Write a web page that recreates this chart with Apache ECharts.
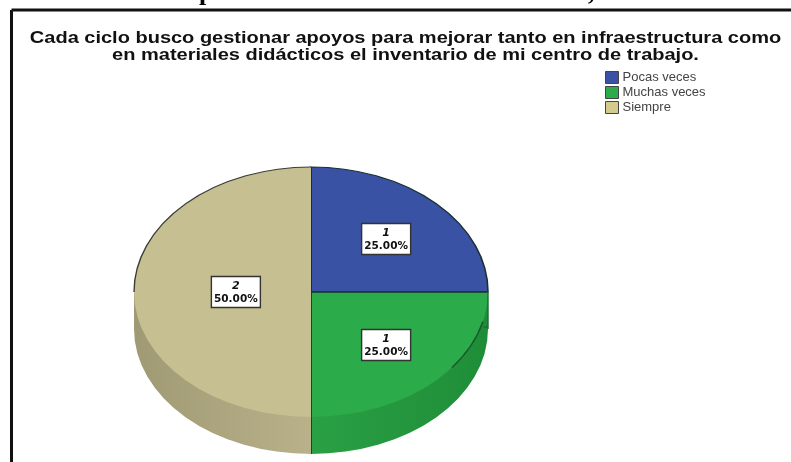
<!DOCTYPE html>
<html><head><meta charset="utf-8">
<style>html,body{margin:0;padding:0;background:#fff}#c{width:791px;height:462px}</style>
<script src="https://cdn.jsdelivr.net/npm/echarts@6/dist/echarts.min.js"></script>
</head><body><div id="c"></div>
<script>
const titleLines = ['Cada ciclo busco gestionar apoyos para mejorar tanto en infraestructura como','en materiales didácticos el inventario de mi centro de trabajo.'];
const categories = ['Pocas veces','Muchas veces','Siempre'];
const counts = [1,1,2];
const percents = ['25.00%','25.00%','50.00%'];
const colors = ['#3a52a3','#2bab49','#c6bf91'];
const legendColors = ['#3a52a3','#2bab49','#d3cb8c'];
const sideColors = [['#2b3f80','#2b3f80'],['#2aa044','#1f8d38'],['#a09a74','#b8b18a']];

const CX=311, CY=292, RX=177, RY=125, DEPTH=37;
const EDGE='#1c2f33';
const total = counts.reduce((a,b)=>a+b,0);
let acc = 0;
const series = categories.map((name,i)=>{
  const start = acc; acc += counts[i];
  return {
    type:'custom', name, coordinateSystem:'none',
    itemStyle:{color:colors[i]},
    data:[{name, value:[start,counts[i],i]}],
    renderItem(params,api){
      const s=api.value(0), v=api.value(1);
      const a0=-Math.PI/2+s/total*2*Math.PI, a1=a0+v/total*2*Math.PI;
      const kids=[];
      const sy=RY/RX;
      const arc=(from,to,color,w)=>({type:'arc',originX:CX,originY:CY,scaleY:sy,
        shape:{cx:CX,cy:CY,r:RX,startAngle:from,endAngle:to,clockwise:true},
        style:{fill:null,stroke:color,lineWidth:w}});
      const lo=Math.max(a0,0), hi=Math.min(a1,Math.PI);
      if(hi>lo){
        const xa=CX+RX*Math.cos(lo), xb=CX+RX*Math.cos(hi);
        const x0=Math.min(xa,xb), x1=Math.max(xa,xb);
        const gfill={type:'linear',x:x0,y:0,x2:x1,y2:0,global:true,
          colorStops:[{offset:0,color:sideColors[i][0]},{offset:1,color:sideColors[i][1]}]};
        kids.push({type:'rect',shape:{x:x0,y:CY,width:x1-x0,height:DEPTH},style:{fill:gfill}});
        kids.push({type:'sector',originX:CX,originY:CY+DEPTH,scaleY:sy,
          shape:{cx:CX,cy:CY+DEPTH,r:RX,r0:0,startAngle:lo,endAngle:hi,clockwise:true},style:{fill:gfill}});
      }
      kids.push({type:'sector',originX:CX,originY:CY,scaleY:sy,
        shape:{cx:CX,cy:CY,r:RX,r0:0,startAngle:a0,endAngle:a1,clockwise:true},
        style:{fill:colors[i],stroke:i===0?EDGE:null,lineWidth:1.6}});
      if(i===1){
        kids.push({type:'line',shape:{x1:CX,y1:CY-RY,x2:CX,y2:CY+RY+DEPTH},style:{stroke:EDGE,lineWidth:1.7}});
        kids.push({type:'line',shape:{x1:CX,y1:CY,x2:CX+RX,y2:CY},style:{stroke:EDGE,lineWidth:1.7}});
        kids.push({type:'line',shape:{x1:CX+RX,y1:CY,x2:CX+RX,y2:CY+DEPTH},style:{stroke:'#1d6b33',lineWidth:1.4}});
        kids.push({type:'line',shape:{x1:CX+RX-5,y1:CY+35,x2:CX+RX,y2:CY+35},style:{stroke:'#1d6b33',lineWidth:1.2}});
        kids.push(arc(0.24,0.65,'#17592b',1.5));
      }
      if(i===2){
        kids.push(arc(Math.PI,Math.PI*1.5,'#3a3f35',1.4));
      }
      const half=(a1-a0)/2, mid=(a0+a1)/2;
      const f=2/3*Math.sin(half)/half;
      const lx=CX+RX*f*Math.cos(mid), ly=CY+RY*f*Math.sin(mid);
      kids.push({type:'rect',shape:{x:lx-24.5,y:ly-15.5,width:49,height:31},
        style:{fill:'#fff',stroke:'#333',lineWidth:1.4},z2:20});
      kids.push({type:'text',x:lx,y:ly-6,z2:21,style:{text:String(counts[i]),align:'center',verticalAlign:'middle',
        font:'italic bold 11px "DejaVu Sans"',fill:'#111'}});
      kids.push({type:'text',x:lx,y:ly+7,z2:21,style:{text:percents[i],align:'center',verticalAlign:'middle',
        font:'bold 10.5px "DejaVu Sans"',fill:'#111'}});
      return {type:'group',children:kids};
    }
  };
});

const chart = echarts.init(document.getElementById('c'),null,{renderer:'canvas'});
const TITLE_CX=405.5;
chart.setOption({
  animation:false,
  backgroundColor:'#fff',
  legend:{orient:'vertical',left:600,top:66,itemWidth:13,itemHeight:12,itemGap:2,selectedMode:false,
    textStyle:{fontFamily:'Liberation Sans',fontSize:13,color:'#444',padding:[0,0,0,-1]},
    data:categories.map((name,i)=>({name,icon:'rect',itemStyle:{color:legendColors[i],borderColor:'#444',borderWidth:1}}))},
  graphic:[
    {type:'line',shape:{x1:11.5,y1:10,x2:791,y2:10},style:{stroke:'#111',lineWidth:3}},
    {type:'line',shape:{x1:11.5,y1:10,x2:11.5,y2:462},style:{stroke:'#111',lineWidth:3}},
    {type:'text',x:199,y:-20,style:{text:'p',font:'bold 26px "Liberation Serif"',fill:'#000'}},
    {type:'text',x:588,y:-20,style:{text:',',font:'bold 26px "Liberation Serif"',fill:'#000'}},
    {type:'text',x:TITLE_CX,y:38.5,scaleX:1.25,
      style:{text:titleLines[0],align:'center',verticalAlign:'middle',font:'bold 16px "Liberation Sans"',fill:'#111'}},
    {type:'text',x:TITLE_CX,y:55.5,scaleX:1.25,
      style:{text:titleLines[1],align:'center',verticalAlign:'middle',font:'bold 16px "Liberation Sans"',fill:'#111'}}
  ],
  series
});
</script></body></html>
